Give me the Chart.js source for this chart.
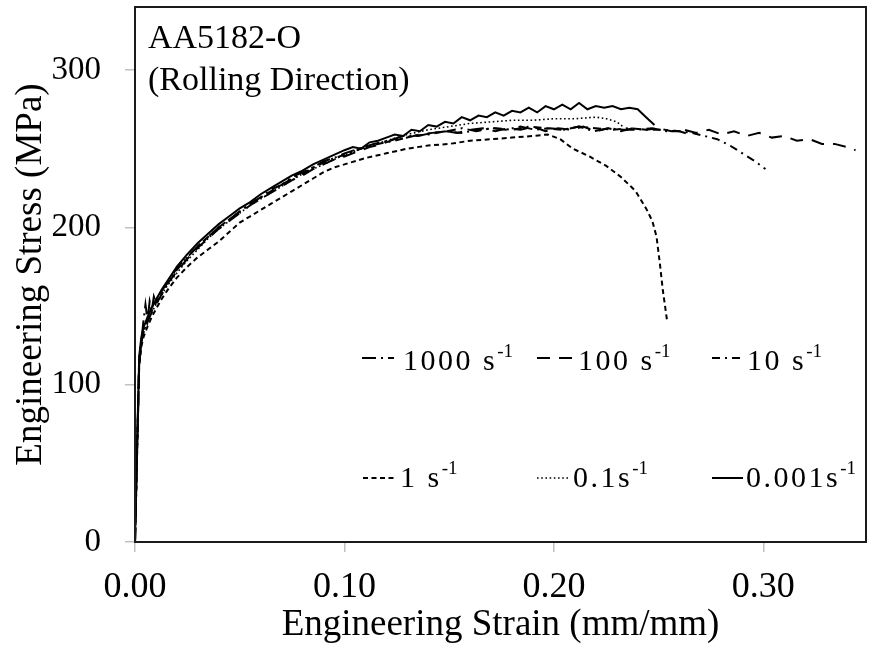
<!DOCTYPE html>
<html>
<head>
<meta charset="utf-8">
<script src="https://cdn.jsdelivr.net/npm/chart.js@4.4.1/dist/chart.umd.min.js"></script>
<style>
  html, body { margin: 0; padding: 0; background: #fff; }
  #wrap { width: 870px; height: 647px; }
</style>
</head>
<body>
<div id="wrap"><canvas id="c" width="870" height="647"></canvas></div>
<script>
// AA5182-O, rolling direction: engineering stress-strain curves at six strain rates.

const strainTicks = [0, 0.1, 0.2, 0.3];
const stressTicks = [0, 100, 200, 300];

const rateLabels = ['1000 s', '100 s', '10 s', '1 s', '0.1s', '0.001s'];

// 1000 s^-1
const strain1000 = [0, 0.001, 0.002, 0.003, 0.004, 0.005, 0.006, 0.007, 0.008, 0.009, 0.010, 0.012, 0.015, 0.018, 0.021, 0.025, 0.030, 0.035, 0.040, 0.045, 0.050, 0.055, 0.060, 0.065, 0.070, 0.075, 0.080, 0.085, 0.090, 0.095, 0.100, 0.107, 0.114, 0.121, 0.128, 0.135, 0.142, 0.149, 0.156, 0.163, 0.170, 0.177, 0.184, 0.191, 0.198, 0.205, 0.212, 0.219, 0.226, 0.233, 0.240, 0.247, 0.254, 0.260, 0.265];
const stress1000 = [0, 56, 112, 127, 140, 151, 141, 153, 147, 156, 152, 158, 164, 170, 176, 181, 188, 194, 200, 205, 210, 215, 219, 224, 227, 232, 235, 238, 242, 244, 247, 250, 253, 255, 258, 258, 260, 261, 263, 261, 263, 262, 264, 262, 263, 262, 264, 261, 263, 262, 262, 263, 261, 261, 259];

// 100 s^-1
const strain100 = [0, 0.001, 0.002, 0.003, 0.004, 0.006, 0.008, 0.010, 0.013, 0.016, 0.020, 0.025, 0.030, 0.035, 0.040, 0.045, 0.050, 0.055, 0.060, 0.065, 0.070, 0.075, 0.080, 0.085, 0.090, 0.095, 0.100, 0.106, 0.112, 0.118, 0.124, 0.130, 0.136, 0.142, 0.148, 0.154, 0.160, 0.166, 0.172, 0.178, 0.184, 0.190, 0.196, 0.202, 0.208, 0.214, 0.220, 0.226, 0.232, 0.238, 0.244, 0.250, 0.256, 0.262, 0.268, 0.274, 0.280, 0.286, 0.292, 0.298, 0.304, 0.310, 0.316, 0.322, 0.328, 0.334, 0.340, 0.344];
const stress100 = [0, 58, 114, 127, 133, 140, 146, 151, 158, 165, 172, 180, 187, 193, 199, 204, 209, 214, 218, 222, 226, 230, 233, 237, 240, 243, 245, 248, 251, 253, 256, 257, 259, 260, 261, 260, 262, 263, 261, 263, 262, 264, 261, 263, 262, 264, 261, 263, 261, 263, 262, 263, 261, 262, 260, 262, 259, 261, 258, 260, 257, 258, 255, 256, 253, 253, 251, 249];

// 10 s^-1
const strain10 = [0, 0.001, 0.002, 0.003, 0.004, 0.006, 0.008, 0.010, 0.013, 0.016, 0.020, 0.025, 0.030, 0.035, 0.040, 0.045, 0.050, 0.055, 0.060, 0.065, 0.070, 0.075, 0.080, 0.085, 0.090, 0.095, 0.100, 0.108, 0.116, 0.124, 0.132, 0.140, 0.148, 0.156, 0.164, 0.172, 0.180, 0.188, 0.196, 0.204, 0.212, 0.220, 0.228, 0.236, 0.244, 0.252, 0.260, 0.266, 0.272, 0.278, 0.284, 0.290, 0.296, 0.301];
const stress10 = [0, 60, 116, 128, 134, 141, 147, 152, 159, 166, 173, 181, 188, 194, 200, 205, 210, 215, 219, 223, 227, 231, 234, 238, 241, 244, 246, 250, 253, 255, 258, 259, 261, 260, 262, 263, 262, 264, 263, 262, 264, 263, 262, 263, 262, 262, 261, 260, 258, 256, 252, 247, 242, 237];

// 1 s^-1
const strain1 = [0, 0.001, 0.002, 0.003, 0.004, 0.006, 0.008, 0.010, 0.013, 0.016, 0.020, 0.025, 0.030, 0.035, 0.040, 0.045, 0.050, 0.055, 0.060, 0.065, 0.070, 0.075, 0.080, 0.085, 0.090, 0.095, 0.100, 0.110, 0.120, 0.130, 0.140, 0.150, 0.160, 0.170, 0.180, 0.190, 0.197, 0.203, 0.209, 0.217, 0.225, 0.232, 0.239, 0.244, 0.247, 0.249, 0.2505, 0.252, 0.254];
const stress1 = [0, 57, 111, 124, 130, 137, 143, 148, 155, 161, 168, 175, 181, 186, 191, 197, 203, 207, 211, 215, 219, 223, 227, 231, 235, 238, 240, 244, 247, 250, 252, 253, 255, 256, 257, 258, 259, 256, 250, 245, 239, 232, 223, 212, 204, 194, 178, 160, 141];

// 0.1 s^-1
const strain01 = [0, 0.001, 0.002, 0.003, 0.004, 0.006, 0.008, 0.010, 0.015, 0.020, 0.025, 0.030, 0.035, 0.040, 0.045, 0.050, 0.055, 0.060, 0.065, 0.070, 0.075, 0.080, 0.085, 0.090, 0.095, 0.100, 0.110, 0.120, 0.130, 0.140, 0.150, 0.160, 0.170, 0.180, 0.190, 0.200, 0.210, 0.220, 0.225, 0.230, 0.233];
const stress01 = [0, 60, 115, 127, 133, 140, 146, 151, 162, 171, 179, 186, 193, 199, 204, 209, 214, 218, 222, 226, 230, 234, 237, 240, 243, 246, 251, 255, 259, 262, 264, 266, 267, 268, 268, 269, 269, 270, 269, 267, 264];

// 0.001 s^-1
const strain0001 = [0, 0.001, 0.002, 0.003, 0.004, 0.006, 0.008, 0.010, 0.013, 0.016, 0.020, 0.025, 0.030, 0.035, 0.040, 0.045, 0.050, 0.055, 0.060, 0.065, 0.070, 0.075, 0.080, 0.085, 0.090, 0.095, 0.100, 0.104, 0.108, 0.112, 0.116, 0.120, 0.124, 0.128, 0.132, 0.136, 0.140, 0.144, 0.148, 0.152, 0.156, 0.160, 0.164, 0.168, 0.172, 0.176, 0.180, 0.184, 0.188, 0.192, 0.196, 0.200, 0.204, 0.208, 0.212, 0.216, 0.220, 0.224, 0.228, 0.232, 0.236, 0.240, 0.244, 0.248];
const stress0001 = [0, 62, 118, 130, 136, 143, 149, 154, 161, 167, 175, 183, 190, 196, 202, 207, 212, 216, 221, 225, 229, 233, 236, 240, 243, 246, 249, 251, 250, 254, 255, 257, 259, 258, 262, 261, 265, 264, 267, 266, 270, 268, 271, 270, 273, 271, 274, 273, 276, 273, 277, 275, 278, 275, 279, 275, 277, 276, 277, 275, 276, 275, 270, 265];

const SERIF = "'Liberation Serif', 'Times New Roman', serif";

// line styles per strain rate, in legend order
const series = [
  { label: rateLabels[0], strain: strain1000, stress: stress1000, dash: [14, 5, 2, 5], width: 2 },
  { label: rateLabels[1], strain: strain100,  stress: stress100,  dash: [13, 9],       width: 2 },
  { label: rateLabels[2], strain: strain10,   stress: stress10,   dash: [8, 5, 2, 5],  width: 2 },
  { label: rateLabels[3], strain: strain1,    stress: stress1,    dash: [5, 3.5],      width: 2 },
  { label: rateLabels[4], strain: strain01,   stress: stress01,   dash: [1.6, 2.6],    width: 1.6 },
  { label: rateLabels[5], strain: strain0001, stress: stress0001, dash: [],            width: 2 }
];

// legend grid: two rows of three entries inside the plot
const legendRows = [358, 478];          // y of line samples
const legendBase = [370, 487];          // text baselines
const legendCols = [
  { x0: 362, x1: 394, tx: 403 },
  { x0: 537, x1: 575, tx: 578 },
  { x0: 712, x1: 743, tx: 747 }
];
const legendCols2 = [
  { x0: 363, x1: 397, tx: 400 },
  { x0: 537, x1: 570, tx: 573 },
  { x0: 712, x1: 743, tx: 746 }
];

const framePlugin = {
  id: 'frameAndNotes',
  afterDatasetsDraw(chart) {
    const { ctx, chartArea: a } = chart;
    ctx.save();
    ctx.strokeStyle = '#1a1a1a';
    ctx.lineWidth = 2;
    ctx.setLineDash([]);
    ctx.strokeRect(a.left, a.top, a.right - a.left, a.bottom - a.top);

    // material note
    ctx.fillStyle = '#000';
    ctx.font = '34px ' + SERIF;
    ctx.textBaseline = 'alphabetic';
    ctx.textAlign = 'left';
    ctx.fillText('AA5182-O', a.left + 13, 48);
    ctx.fillText('(Rolling Direction)', a.left + 13, 90);

    // legend
    series.forEach((s, i) => {
      const row = i < 3 ? 0 : 1;
      const col = (row === 0 ? legendCols : legendCols2)[i % 3];
      const y = legendRows[row];
      ctx.strokeStyle = '#000';
      ctx.lineWidth = s.width;
      ctx.setLineDash(s.dash);
      ctx.beginPath();
      ctx.moveTo(col.x0, y);
      ctx.lineTo(col.x1, y);
      ctx.stroke();
      ctx.setLineDash([]);

      const base = legendBase[row];
      ctx.font = '30px ' + SERIF;
      ctx.letterSpacing = '2.5px';
      ctx.fillText(s.label, col.tx, base);
      const w = ctx.measureText(s.label).width;
      ctx.letterSpacing = '0px';
      ctx.font = '19px ' + SERIF;
      ctx.fillText('-1', col.tx + w, base - 13);
    });
    ctx.restore();
  }
};

new Chart(document.getElementById('c'), {
  type: 'scatter',
  data: {
    datasets: series.map(s => ({
      label: s.label + '-1',
      data: s.strain.map((x, i) => ({ x, y: s.stress[i] })),
      showLine: true,
      pointRadius: 0,
      borderColor: '#000',
      backgroundColor: '#000',
      borderWidth: s.width,
      borderDash: s.dash,
      fill: false,
      tension: 0
    }))
  },
  options: {
    responsive: false,
    animation: false,
    layout: { padding: { left: 0, top: 7, right: 4, bottom: 0 } },
    plugins: { legend: { display: false }, tooltip: { enabled: false } },
    scales: {
      x: {
        type: 'linear',
        min: 0,
        max: 0.349,
        afterFit(scale) {
          scale.height = 105;
          scale.paddingLeft = 0;
          scale.paddingRight = 0;
        },
        afterBuildTicks(scale) { scale.ticks = strainTicks.map(v => ({ value: v })); },
        grid: { drawOnChartArea: false, drawTicks: true, tickLength: 10, color: '#c0c0c0', lineWidth: 1.5 },
        border: { display: false },
        ticks: {
          color: '#000',
          font: { family: SERIF, size: 36 },
          padding: 14,
          maxRotation: 0,
          autoSkip: false,
          callback: v => Number(v).toFixed(2)
        },
        title: {
          display: true,
          text: 'Engineering Strain (mm/mm)',
          color: '#000',
          font: { family: SERIF, size: 37 },
          padding: { top: 0, bottom: 0 }
        }
      },
      y: {
        type: 'linear',
        min: 0,
        max: 340,
        afterFit(scale) {
          scale.width = 135;
          scale.paddingTop = 0;
          scale.paddingBottom = 0;
        },
        afterBuildTicks(scale) { scale.ticks = stressTicks.map(v => ({ value: v })); },
        grid: { drawOnChartArea: false, drawTicks: true, tickLength: 10, color: '#c0c0c0', lineWidth: 1.5 },
        border: { display: false },
        ticks: {
          color: '#000',
          font: { family: SERIF, size: 33 },
          padding: 24,
          autoSkip: false,
          callback: v => String(v)
        },
        title: {
          display: true,
          text: 'Engineering Stress (MPa)',
          color: '#000',
          font: { family: SERIF, size: 37 },
          padding: { top: 9, bottom: 0 }
        }
      }
    }
  },
  plugins: [framePlugin]
});
</script>
</body>
</html>
